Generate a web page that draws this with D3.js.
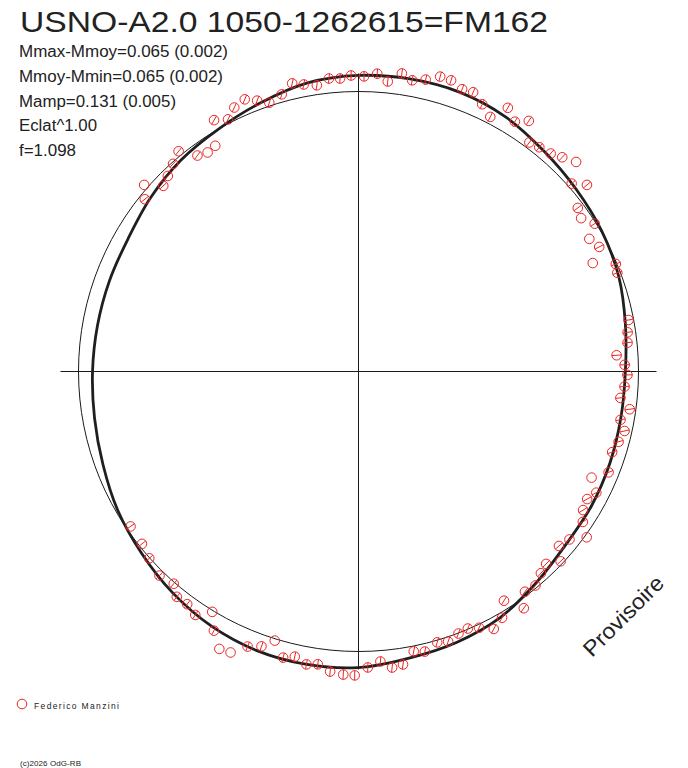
<!DOCTYPE html>
<html>
<head>
<meta charset="utf-8">
<script src="https://cdn.jsdelivr.net/npm/d3@7"></script>
<style>
  html, body { margin: 0; padding: 0; background: #fff; }
  svg { display: block; }
  text { font-family: "Liberation Sans", Arial, sans-serif; fill: #222; }
</style>
</head>
<body>
<div id="chart"></div>
<script>
// ---------- DATA ----------
const title = "USNO-A2.0 1050-1262615=FM162";
const statLines = ["Mmax-Mmoy=0.065 (0.002)", "Mmoy-Mmin=0.065 (0.002)", "Mamp=0.131 (0.005)", "Eclat^1.00", "f=1.098"];
const observer = "Federico Manzini";
const copyright = "(c)2026 OdG-RB";
const watermark = "Provisoire";

// observations: phase (0..1, clockwise from top) and brightness deviation from mean (mag, positive = brighter / outward)
const obsPhase = [0.984,0.990,0.996,0.003,0.010,0.016,0.023,0.029,0.036,0.043,0.049,0.056,0.062,0.069,0.076,0.082,0.089,0.095,0.102,0.108,0.115,0.121,0.128,0.135,0.141,0.148,0.154,0.161,0.167,0.174,0.181,0.187,0.192,
  0.220,0.227,0.233,0.240,0.246,0.252,0.259,0.266,0.272,0.279,0.285,0.292,0.299,0.311,0.318,0.325,0.331,0.338,0.344,0.350,0.357,0.364,0.370,0.377,0.383,0.390,0.397,0.403,0.410,0.416,0.423,0.430,0.436,0.442,0.449,0.455,0.463,0.469,0.476,0.482,0.488,0.495,
  0.502,0.508,0.515,0.522,0.528,0.535,0.541,0.548,0.554,0.561,0.568,0.574,0.581,0.587,0.594,0.601,0.608,0.614,0.623,0.634,0.643,0.655,
  0.858,0.864,0.871,0.877,0.884,0.891,0.898,0.904,0.910,0.917,0.924,0.930,0.937,0.943,0.949,0.957,0.964,0.970,0.977];
const obsDmag = [0.063,0.059,0.070,0.066,0.080,0.050,0.092,0.070,0.085,0.113,0.111,0.090,0.095,0.063,0.029,0.100,0.064,0.100,0.025,0.035,0.046,0.068,0.096,0.018,0.065,-0.028,-0.042,-0.006,-0.060,-0.039,-0.095,-0.005,-0.013,
  -0.022,-0.035,-0.041,-0.093,-0.060,-0.048,-0.059,-0.073,-0.027,-0.059,-0.032,-0.046,-0.060,-0.045,-0.104,-0.057,-0.079,-0.070,-0.043,0.009,-0.045,-0.062,-0.012,-0.049,-0.035,-0.010,-0.017,0.038,-0.037,0.022,0.047,0.014,-0.003,0.002,0.020,0.009,0.034,0.023,0.071,0.078,0.047,0.070,
  0.104,0.102,0.093,0.068,0.076,0.053,0.069,0.008,0.050,0.072,0.125,0.132,0.073,0.006,0.057,0.039,0.041,0.006,0.022,0.002,-0.014,-0.019,
  -0.024,0.018,-0.046,-0.030,-0.007,0.019,-0.046,-0.061,-0.055,0.043,0.017,0.051,0.065,0.040,0.014,0.033,0.068,0.053,0.040];
const obsHasBar = [1,1,1,1,1,1,1,1,1,1,1,1,1,1,1,1,1,1,1,1,1,1,0,1,1,1,0,1,0,1,0,1,1,
  1,1,1,1,1,1,1,1,1,1,1,1,1,1,0,1,1,1,1,0,1,1,1,1,1,1,1,1,1,1,1,1,1,1,1,1,1,1,1,1,1,1,
  1,1,1,1,1,1,1,0,1,1,0,0,1,0,1,1,1,1,1,1,1,1,
  1,0,1,1,1,1,1,0,0,1,1,1,1,1,1,1,1,1,1];

// fitted light curve, sampled every 10 degrees of phase
const fitPhase = [0,10,20,30,40,50,60,70,80,90,100,110,120,130,140,150,160,170,180,190,200,210,220,230,240,250,260,270,280,290,300,310,320,330,340,350].map(d => d / 360);
const fitDmag = [0.070,0.074,0.074,0.061,0.035,0.017,0.004,-0.013,-0.039,-0.057,-0.059,-0.054,-0.048,-0.043,-0.017,0.017,0.035,0.048,0.070,0.076,0.074,0.061,0.039,0.013,-0.009,-0.035,-0.052,-0.061,-0.065,-0.065,-0.061,-0.039,-0.017,0.000,0.026,0.057];

// ---------- LAYOUT ----------
const W = 688, H = 768;
const cx = 358.5, cy = 371.5;
const axisHalf = 298;

const svg = d3.select("#chart").append("svg").attr("width", W).attr("height", H);
svg.append("rect").attr("width", W).attr("height", H).attr("fill", "#fff");

const rScale = d3.scaleLinear().domain([0, 0.1]).range([280, 303]);
const aScale = d3.scaleLinear().domain([0, 1]).range([0, 2 * Math.PI]);

const g = svg.append("g").attr("transform", `translate(${cx},${cy})`);

// axes
g.append("line").attr("x1", -axisHalf).attr("x2", axisHalf).attr("y1", 0).attr("y2", 0)
  .attr("stroke", "#1a1a1a").attr("stroke-width", 1);
g.append("line").attr("x1", 0).attr("x2", 0).attr("y1", -axisHalf).attr("y2", axisHalf)
  .attr("stroke", "#1a1a1a").attr("stroke-width", 1);

// mean circle
g.append("circle").attr("r", rScale(0)).attr("fill", "none").attr("stroke", "#1a1a1a").attr("stroke-width", 1);

// fitted curve
const fit = fitPhase.map((p, i) => [p, fitDmag[i]]);
const radial = d3.lineRadial()
  .angle(d => aScale(d[0]))
  .radius(d => rScale(d[1]))
  .curve(d3.curveCatmullRomClosed.alpha(0.5));
g.append("path").attr("d", radial(fit)).attr("fill", "none").attr("stroke", "#1f1f1f").attr("stroke-width", 2.8);

// observations
const obs = obsPhase.map((p, i) => ({ p, m: obsDmag[i], bar: obsHasBar[i] }));
const red = "#ec2424";
const mr = 4.8;
const pts = g.append("g").selectAll("g").data(obs).join("g")
  .attr("transform", d => {
    const [x, y] = d3.pointRadial(aScale(d.p), rScale(d.m));
    return `translate(${x},${y})`;
  });
pts.append("circle").attr("r", mr).attr("fill", "none").attr("stroke", red).attr("stroke-width", 1);
pts.filter(d => d.bar).append("line")
  .each(function (d) {
    const a = aScale(d.p);
    const ux = Math.abs(Math.sin(a)), uy = Math.abs(Math.cos(a));
    d3.select(this).attr("x1", -ux * mr).attr("y1", uy * mr).attr("x2", ux * mr).attr("y2", -uy * mr);
  })
  .attr("stroke", red).attr("stroke-width", 1);

// title and statistics
svg.append("text").attr("x", 20).attr("y", 32).attr("font-size", 30)
  .attr("textLength", 528).attr("lengthAdjust", "spacingAndGlyphs").text(title);
const statY = [57, 82, 106.5, 131, 155.5];
const statW = [209, 204, 157, 78, 57];
svg.append("g").selectAll("text").data(statLines).join("text")
  .attr("x", 19).attr("y", (d, i) => statY[i]).attr("font-size", 16)
  .attr("textLength", (d, i) => statW[i]).attr("lengthAdjust", "spacingAndGlyphs")
  .text(d => d);

// legend
svg.append("circle").attr("cx", 22).attr("cy", 704).attr("r", mr).attr("fill", "none").attr("stroke", red);
svg.append("text").attr("x", 34).attr("y", 708.5).attr("font-size", 8.5)
  .attr("textLength", 85).attr("lengthAdjust", "spacing").text(observer);

// copyright
svg.append("text").attr("x", 20).attr("y", 766).attr("font-size", 8)
  .attr("textLength", 61).attr("lengthAdjust", "spacing").text(copyright);

// watermark
svg.append("text").attr("transform", "translate(592,658) rotate(-45)")
  .attr("font-size", 22).attr("textLength", 104).attr("lengthAdjust", "spacingAndGlyphs").text(watermark);
</script>
</body>
</html>
